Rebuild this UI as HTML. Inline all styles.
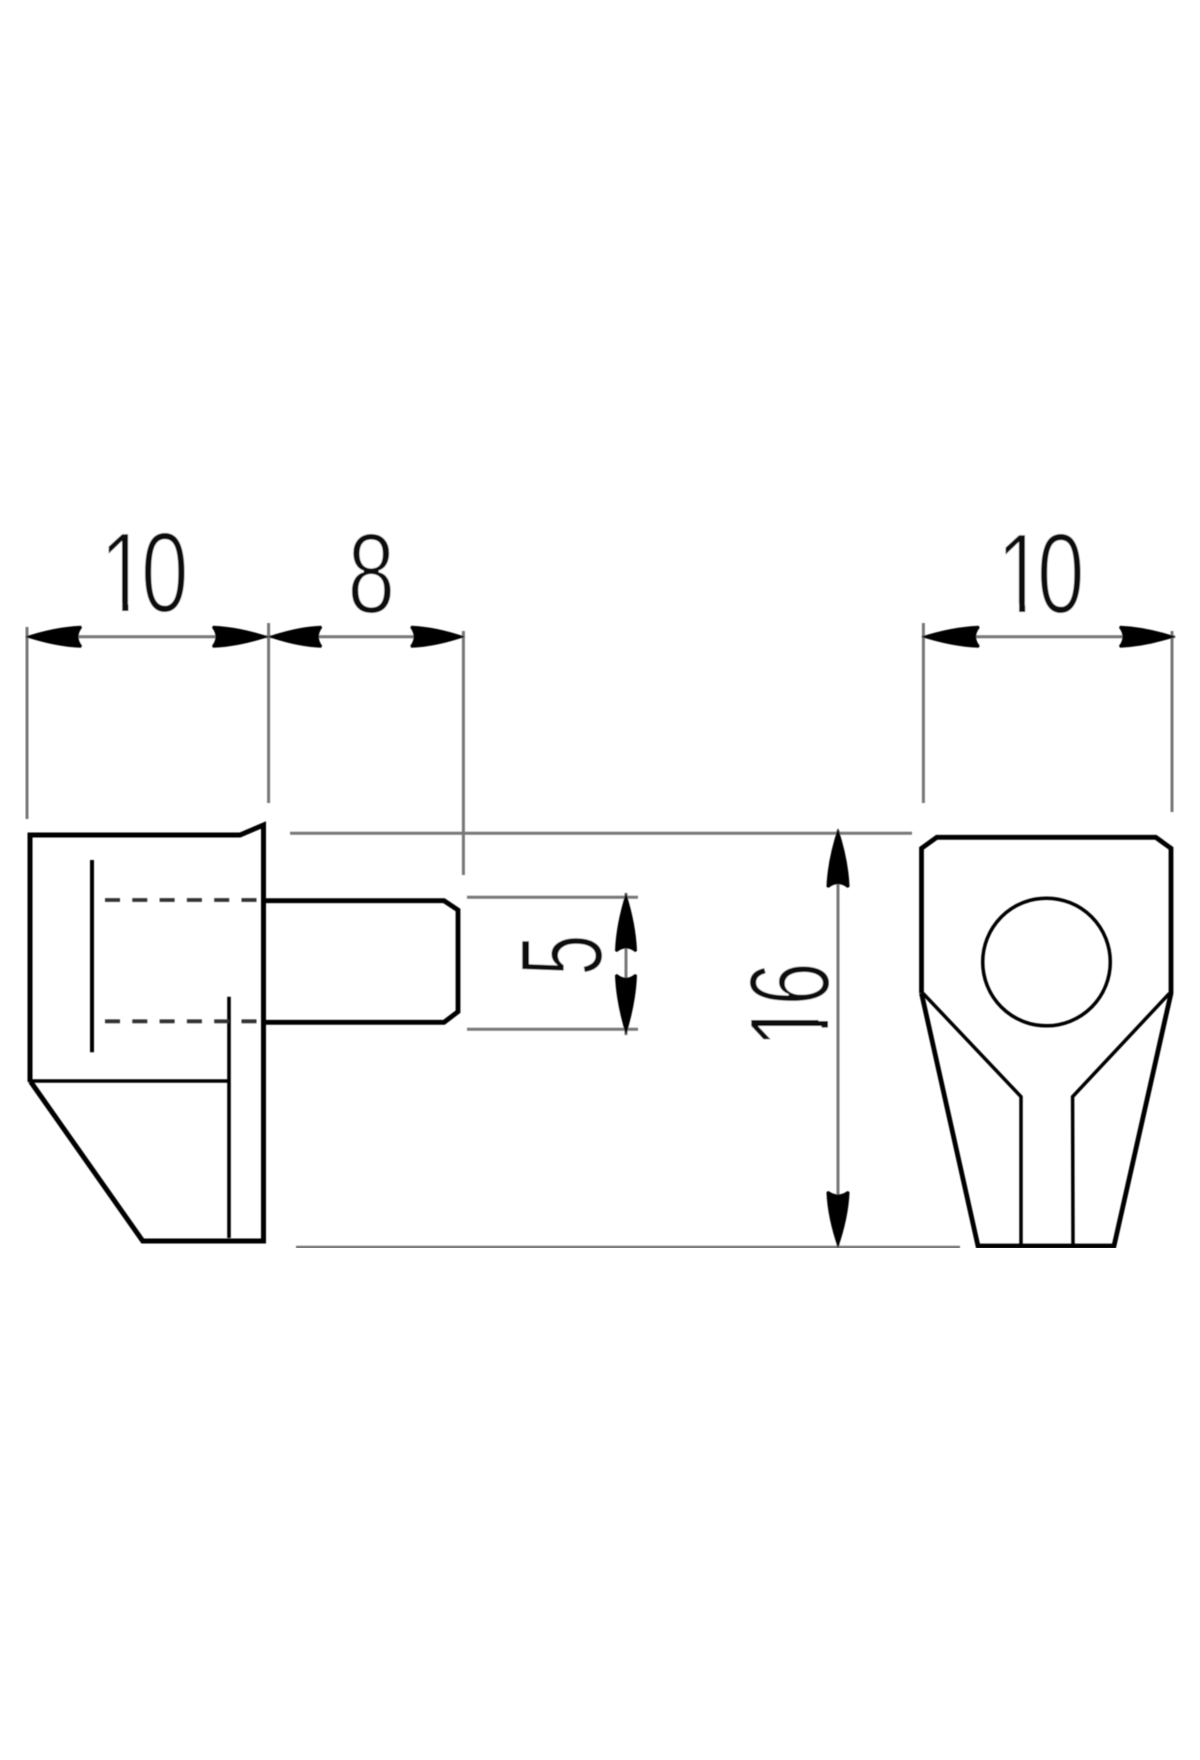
<!DOCTYPE html>
<html><head><meta charset="utf-8"><style>html,body{margin:0;padding:0;background:#fff}svg{display:block}</style></head>
<body>
<svg width="1200" height="1760" viewBox="0 0 1200 1760" xmlns="http://www.w3.org/2000/svg">
<defs>
<filter id="soft" x="0" y="0" width="100%" height="100%"><feGaussianBlur stdDeviation="0.55"/></filter>
<path id="a" d="M0 0Q30 -10 56 -11L57 -9Q50 0 57 9L56 11Q30 10 0 0Z"/>
</defs>
<rect width="1200" height="1760" fill="#fff"/>
<g filter="url(#soft)">
<g font-family="'Liberation Sans',sans-serif" font-size="114" fill="#111" stroke="#fff" stroke-width="2">
<text transform="translate(99.7,612) scale(.75,1)">1</text>
<rect x="101" y="602.5" width="21.200" height="13" fill="#fff" stroke="none"/>
<rect x="128.400" y="602.5" width="15.800" height="13" fill="#fff" stroke="none"/>
<text transform="translate(141,612) scale(.75,1)">0</text>
<text transform="translate(347.500,613) scale(.75,1)">8</text>
<text transform="translate(996.600,613) scale(.75,1)">1</text>
<rect x="997" y="603.5" width="22.100" height="13" fill="#fff" stroke="none"/>
<rect x="1025.200" y="603.5" width="15.300" height="13" fill="#fff" stroke="none"/>
<text transform="translate(1037,613) scale(.75,1)">0</text>
<text transform="translate(602,975.700) rotate(-90) scale(.65,1.03)">5</text>
<text transform="translate(829,1048.300) rotate(-90) scale(.75,1)">1</text>
<rect x="818.5" y="1005" width="12" height="16" fill="#fff" stroke="none"/>
<rect x="818.5" y="1027.600" width="12" height="19" fill="#fff" stroke="none"/>
<text transform="translate(829,1005.500) rotate(-90) scale(.68,1)">6</text>
</g>
<g stroke="#777" stroke-width="3" fill="none">
<path d="M27 627V819M268.6 623V803M463.4 631V875M923.4 623V803M1172 631V812"/>
<path d="M27 636.7H464M923 636.7H1175"/>
<path d="M290 833.3H912M296 1247.3H960M467 897.3H638M467 1029.3H638"/>
<path d="M838 830V1246M626 893V1035"/>
</g>
<g fill="#000">
<use href="#a" transform="translate(25,636.700)"/>
<use href="#a" transform="translate(269,636.700) rotate(180)"/>
<use href="#a" transform="translate(268,636.700) scale(.95,1)"/>
<use href="#a" transform="translate(465,636.700) rotate(180) scale(.96,1)"/>
<use href="#a" transform="translate(921,636.700) scale(1.03,1)"/>
<use href="#a" transform="translate(1176,636.700) rotate(180)"/>
<use href="#a" transform="translate(838,828) rotate(90) scale(1.05,1.05)"/>
<use href="#a" transform="translate(838,1248) rotate(-90) scale(1,1.05)"/>
<use href="#a" transform="translate(626,892.700) rotate(90) scale(1.04,1)"/>
<use href="#a" transform="translate(626,1035) rotate(-90) scale(1.07,1)"/>
</g>
<g stroke="#000" fill="none" stroke-linejoin="miter">
<path stroke-width="5" d="M30 1082V835H240L263.500 825V1241H142.700L30.500 1081.500"/>
<path stroke-width="4.800" d="M264 900.700H444L458 910V1011.700L444 1022.300H264"/>
<path stroke-width="3.600" d="M30 1081H229M229 996.700V1238"/>
<path stroke-width="4" d="M92 860V1052.300"/>
<path stroke="#333" stroke-width="3.800" stroke-dasharray="15 12.300" d="M105 900H257M105 1021.300H257"/>
<path stroke-width="4.800" d="M921.500 993.300V848.300L936.800 837.300H1155.700L1171 848.300V993.300L1114 1246H978L921.500 993.300"/>
<path stroke-width="3.500" d="M923 993.300L1021 1096.700V1245M1169.500 993.300L1072.600 1096.700L1073 1245"/>
<circle cx="1046.500" cy="962" r="63.800" stroke-width="3.500"/>
</g>
</g>
</svg>
</body></html>
